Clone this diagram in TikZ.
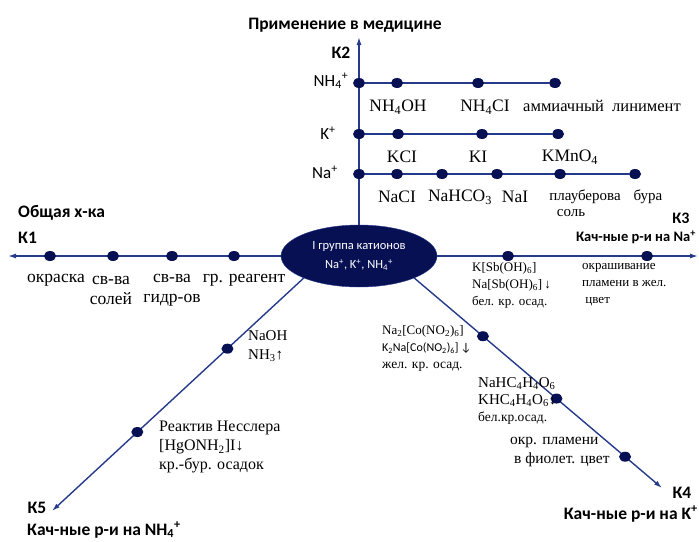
\documentclass[tikz,border=0pt]{standalone}
\usepackage{fontspec}
\setmainfont{Liberation Serif}
\newfontfamily\calfont{Carlito}
\usepackage{xcolor}
\usepackage{tikz}
\usetikzlibrary{arrows.meta, shapes.geometric, backgrounds}

\definecolor{axisblue}{RGB}{38,58,140}
\definecolor{dotblue}{RGB}{8,16,84}

\begin{document}
\begin{tikzpicture}[x=1pt, y=-1pt, >={Latex[length=8pt,width=5pt]},
    axis/.style={draw=axisblue, line width=1.4pt},
    pt/.style={ellipse, fill=dotblue, inner sep=0pt, minimum width=12pt, minimum height=10pt},
    lbl/.style={font=\fontsize{17.5}{20}\selectfont, inner sep=0pt, align=center},
    sml/.style={font=\fontsize{13}{17}\selectfont, inner sep=0pt, align=left, anchor=north west},
    hdr/.style={font=\calfont\bfseries\fontsize{17.5}{20}\selectfont, inner sep=0pt},
    ion/.style={font=\calfont\fontsize{17}{20}\selectfont, inner sep=0pt}]
    \useasboundingbox (0,0) rectangle (699,541);

    % 1. Центр
    \node[ellipse, fill=dotblue, draw=axisblue, minimum width=156pt, minimum height=62pt,
        text=white, align=center, font=\calfont\fontsize{12.5}{19}\selectfont] (grp) at (359,256)
        {I группа катионов\\Na\textsuperscript{+}, K\textsuperscript{+}, NH\textsubscript{4}\textsuperscript{+}};

    % 2. Оси
    \coordinate (k1) at (8,256);
    \coordinate (k2) at (359,37);
    \coordinate (k3) at (698,256);
    \coordinate (k4) at (662,488);
    \coordinate (k5) at (52,511);
    \draw[axis,->] (grp.west) -- (k1);
    \draw[axis,->] (grp.north) -- (k2);
    \draw[axis,->] (grp.east) -- (k3);
    \draw[axis,->] (grp.south east) -- (k4);
    \draw[axis,->] (grp.south west) -- (k5);

    % 3. Точки
    \foreach \x [count=\i from 0] in {359,397,478,555} \node[pt] (nhd\i) at (\x,83) {};
    \foreach \x [count=\i from 0] in {359,398,482,558} \node[pt] (kd\i) at (\x,134) {};
    \foreach \x [count=\i from 0] in {359,397,442,497,560,635} \node[pt] (nad\i) at (\x,174) {};
    \begin{scope}[on background layer]
        \draw[axis] (nhd0) -- (nhd3);
        \draw[axis] (kd0) -- (kd3);
        \draw[axis] (nad0) -- (nad5);
    \end{scope}
    \foreach \x [count=\i] in {50,113,172,234} \node[pt] (a\i) at (\x,256) {};
    \node[pt] (b1) at (508,256) {};
    \node[pt] (b2) at (647,256) {};
    \path (grp.south west) -- (k5) node[pt, pos=0.303] (c1) {} node[pt, pos=0.661] (c2) {};
    \path (grp.south east) -- (k4) node[pt, pos=0.277] (d1) {} node[pt, pos=0.574] (d2) {}
        node[pt, pos=0.851] (d3) {};

    % 4. Применение в медицине
    \node[hdr] (med) at (345,25) {Применение в медицине};
    \node[hdr] (k2l) at (341,53) {К2};
    \node[ion] (nhl) at (331,81) {NH\textsubscript{4}\textsuperscript{+}};
    \node[ion] (kl) at (328,133) {K\textsuperscript{+}};
    \node[ion] (nal) at (325,172) {Na\textsuperscript{+}};
    \node[lbl] (nh1l) at (398,107) {NH\textsubscript{4}OH};
    \node[lbl] (nh2l) at (485,107) {NH\textsubscript{4}CI};
    \node[lbl, font=\fontsize{16.5}{18}\selectfont] (nh3l) at (602,106) {аммиачный\ \ линимент};
    \node[lbl] (kcl) at (402,157) {KCI};
    \node[lbl] (kil) at (478,157) {KI};
    \node[lbl] (kml) at (570,157) {KMnO\textsubscript{4}};
    \node[lbl] (na1l) at (397,197) {NaCI};
    \node[lbl] (na2l) at (460,197) {NaHCO\textsubscript{3}};
    \node[lbl] (na3l) at (515,197) {NaI};
    \node[lbl, font=\fontsize{15}{17}\selectfont] (na4l) at (585,197) {плауберова};
    \node[lbl, font=\fontsize{15}{17}\selectfont] (na5l) at (571,213) {соль};
    \node[lbl, font=\fontsize{15}{17}\selectfont] (na6l) at (648,197) {бура};

    % 5. Общая х-ка
    \node[hdr, anchor=west] (obl) at (18,213) {Общая х-ка};
    \node[hdr, anchor=west] (k1l) at (18,238) {К1};
    \node[lbl] (a1l) at (56,280) {окраска};
    \node[lbl] (a2l) at (111,290) {св-ва\\солей};
    \node[lbl] (a3l) at (172,290) {св-ва\\гидр-ов};
    \node[lbl] (a4l) at (244,280) {гр. реагент};

    % 6. Na+
    \node[hdr, font=\calfont\bfseries\fontsize{16}{18}\selectfont] (k3l) at (681,218) {К3};
    \node[hdr, anchor=east, font=\calfont\bfseries\fontsize{14.5}{16}\selectfont] (nah) at (696,237)
        {Кач-ные р-и на Na\textsuperscript{+}};
    \node[sml] (b1l) at (472,262) {K[Sb(OH)\textsubscript{6}]\\Na[Sb(OH)\textsubscript{6}]\,↓\\{\fontsize{13}{15}\selectfont бел. кр. осад.}};
    \node[sml] (b2l) at (582,263) {окрашивание\\пламени в жел.\\\ цвет};

    % 7. NH4+
    \node[sml, font=\fontsize{15}{19}\selectfont] (c1l) at (248,330) {NaOH\\NH\textsubscript{3}↑};
    \node[sml, font=\fontsize{16}{19}\selectfont] (c2l) at (159,421)
        {Реактив Несслера\\{}[HgONH\textsubscript{2}]I↓\\кр.-бур. осадок};
    \node[hdr] (k5l) at (37,508) {К5};
    \node[hdr, anchor=west] (nhh) at (27,530) {Кач-ные р-и на NH\textsubscript{4}\textsuperscript{+}};

    % 8. K+
    \node[sml] (d1l) at (382,325) {Na\textsubscript{2}[Co(NO\textsubscript{2})\textsubscript{6}]\\
        {\calfont\fontsize{12}{15}\selectfont K\textsubscript{2}Na[Co(NO\textsubscript{2})\textsubscript{6}]\,↓}\\
        {\fontsize{13.5}{15}\selectfont жел. кр. осад.}};
    \node[sml, font=\fontsize{15}{17}\selectfont] (d2l) at (478,377) {NaHC\textsubscript{4}H\textsubscript{4}O\textsubscript{6}\\
        KHC\textsubscript{4}H\textsubscript{4}O\textsubscript{6}↓\\{\fontsize{13.5}{15}\selectfont бел.кр.осад.}};
    \node[sml, font=\fontsize{15.5}{19}\selectfont] (d3l) at (510,437) {окр. пламени\\\ в фиолет. цвет};
    \node[hdr] (k4l) at (682,493) {К4};
    \node[hdr, anchor=east] (kh) at (698,514) {Кач-ные р-и на K\textsuperscript{+}};
\end{tikzpicture}
\end{document}
